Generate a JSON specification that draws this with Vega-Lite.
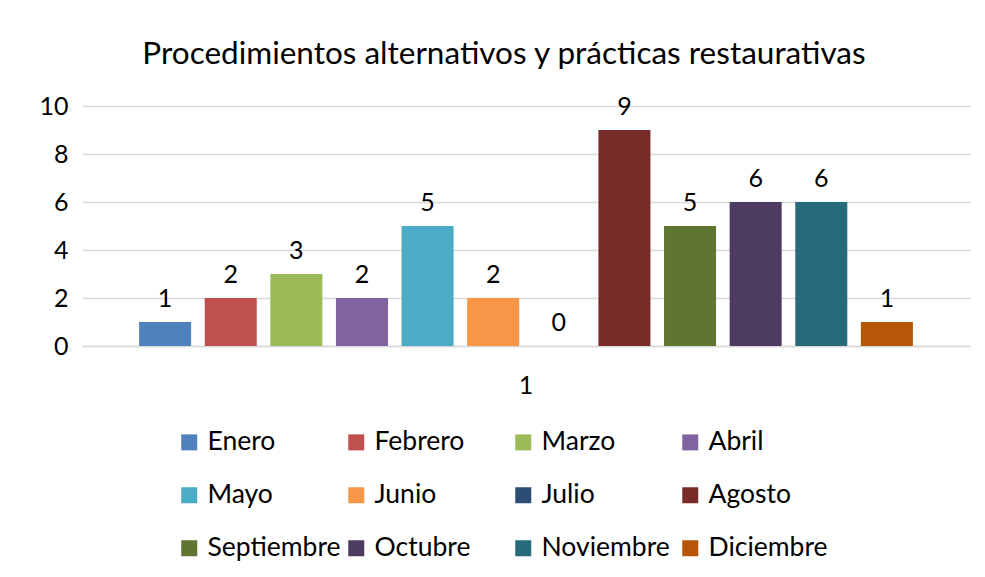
{
  "$schema": "https://vega.github.io/schema/vega-lite/v6.json",
  "width": 888,
  "height": 240,
  "autosize": {"type": "none"},
  "padding": {"left": 82, "top": 106, "right": 15, "bottom": 231},
  "background": "white",
  "view": {"stroke": null},
  "title": {
    "text": "Procedimientos alternativos y prácticas restaurativas",
    "font": "Lato",
    "fontSize": 31.5,
    "fontWeight": "normal",
    "color": "#000000",
    "anchor": "middle",
    "offset": 24,
    "dx": -22
  },
  "data": {
    "values": [
      {"cat": "1", "mes": "Enero", "orden": 1, "valor": 1},
      {"cat": "1", "mes": "Febrero", "orden": 2, "valor": 2},
      {"cat": "1", "mes": "Marzo", "orden": 3, "valor": 3},
      {"cat": "1", "mes": "Abril", "orden": 4, "valor": 2},
      {"cat": "1", "mes": "Mayo", "orden": 5, "valor": 5},
      {"cat": "1", "mes": "Junio", "orden": 6, "valor": 2},
      {"cat": "1", "mes": "Julio", "orden": 7, "valor": 0},
      {"cat": "1", "mes": "Agosto", "orden": 8, "valor": 9},
      {"cat": "1", "mes": "Septiembre", "orden": 9, "valor": 5},
      {"cat": "1", "mes": "Octubre", "orden": 10, "valor": 6},
      {"cat": "1", "mes": "Noviembre", "orden": 11, "valor": 6},
      {"cat": "1", "mes": "Diciembre", "orden": 12, "valor": 1}
    ]
  },
  "encoding": {
    "x": {
      "field": "cat",
      "type": "nominal",
      "scale": {"paddingInner": 0, "paddingOuter": 0},
      "axis": {
        "title": null,
        "labelAngle": 0,
        "ticks": false,
        "domain": true,
        "domainColor": "#d9d9d9",
        "domainWidth": 1.5,
        "labelFont": "Lato",
        "labelFontSize": 25,
        "labelColor": "#000000",
        "labelPadding": 27
      }
    },
    "xOffset": {
      "field": "mes",
      "type": "nominal",
      "sort": {"field": "orden"},
      "scale": {"paddingInner": 0.207, "paddingOuter": 0.87}
    },
    "y": {
      "field": "valor",
      "type": "quantitative",
      "scale": {"domain": [0, 10]},
      "axis": {
        "title": null,
        "values": [0, 2, 4, 6, 8, 10],
        "ticks": false,
        "domain": false,
        "gridColor": "#d9d9d9",
        "gridWidth": 1.5,
        "labelFont": "Lato",
        "labelFontSize": 25,
        "labelColor": "#000000",
        "labelPadding": 14
      }
    }
  },
  "layer": [
    {
      "mark": {"type": "bar"},
      "encoding": {
        "color": {
          "field": "mes",
          "type": "nominal",
          "sort": {"field": "orden"},
          "scale": {
            "domain": ["Enero", "Febrero", "Marzo", "Abril", "Mayo", "Junio", "Julio", "Agosto", "Septiembre", "Octubre", "Noviembre", "Diciembre"],
            "range": ["#4F81BD", "#C0504D", "#9BBB59", "#8064A2", "#4BACC6", "#F79646", "#2C4D75", "#772C2A", "#5F7530", "#4D3B62", "#276A7C", "#B65708"]
          },
          "legend": {
            "title": null,
            "orient": "none",
            "legendX": 94,
            "legendY": 323,
            "direction": "horizontal",
            "columns": 4,
            "gridAlign": "all",
            "symbolType": "square",
            "symbolSize": 256,
            "symbolStrokeWidth": 0,
            "symbolOpacity": 1,
            "labelFont": "Lato",
            "labelFontSize": 26.5,
            "labelColor": "#000000",
            "labelOffset": 5,
            "labelLimit": 300,
            "columnPadding": 2,
            "rowPadding": 26
          }
        }
      }
    },
    {
      "mark": {"type": "text", "baseline": "bottom", "dy": -10, "font": "Lato", "fontSize": 25, "color": "#000000"},
      "encoding": {
        "text": {"field": "valor", "type": "quantitative"}
      }
    }
  ]
}
